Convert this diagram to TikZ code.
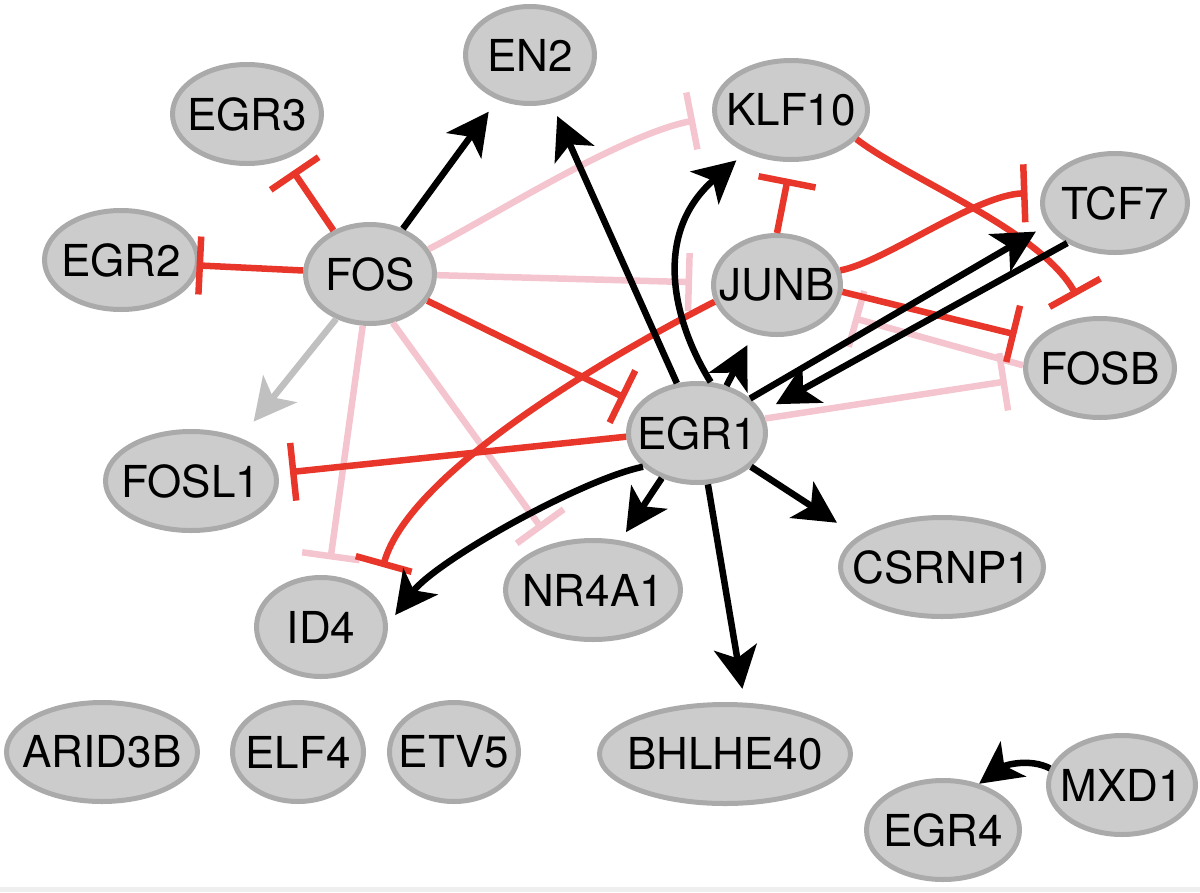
\documentclass[tikz,border=0pt]{standalone}
\usepackage{fontspec}
\setmainfont{TeX Gyre Heros}
\usetikzlibrary{shapes.geometric,arrows.meta}
\definecolor{nfill}{HTML}{CCCCCC}
\definecolor{nborder}{HTML}{AAAAAA}
\definecolor{inhred}{HTML}{E8362A}
\definecolor{inhpink}{HTML}{F4C4CF}
\definecolor{actgray}{HTML}{C0C0C0}
\definecolor{strip}{HTML}{EFEFEF}
\newcommand\gn[1]{\makebox[0pt][c]{#1}}
\tikzset{
  gene/.style={ellipse, draw=nborder, fill=nfill, line width=5pt, inner sep=0pt,
    font=\fontsize{44pt}{50pt}\selectfont, text=black},
  act/.style={line width=6.5pt, black, -{Stealth[length=42pt,width=43pt,inset=11pt]}},
  inh/.style={line width=6.5pt, inhred, -{Bar[width=58pt]}},
  weak/.style={line width=6.5pt, inhpink, -{Bar[width=58pt]}},
}
\begin{document}
\begin{tikzpicture}[x=1pt,y=-1pt]
\useasboundingbox (0,0) rectangle (1200,892);
\fill[strip] (0,887) rectangle (1200,892);

% nodes
\node[gene, minimum width=129pt, minimum height=97pt] (en2) at (530,55) {\gn{EN2}};
\node[gene, minimum width=153pt, minimum height=99pt] (klf10) at (791,110) {\gn{KLF10}};
\node[gene, minimum width=149pt, minimum height=99pt] (egr3) at (247,114) {\gn{EGR3}};
\node[gene, minimum width=153pt, minimum height=99pt] (egr2) at (121,260) {\gn{EGR2}};
\node[gene, minimum width=129pt, minimum height=99pt] (fos) at (370,274) {\gn{FOS}};
\node[gene, minimum width=127pt, minimum height=99pt] (junb) at (777,285) {\gn{JUNB}};
\node[gene, minimum width=145pt, minimum height=99pt] (tcf7) at (1115,203) {\gn{TCF7}};
\node[gene, minimum width=149pt, minimum height=99pt] (fosb) at (1100,368) {\gn{FOSB}};
\node[gene, minimum width=137pt, minimum height=99pt] (egr1) at (697,433) {\gn{EGR1}};
\node[gene, minimum width=171pt, minimum height=99pt] (fosl1) at (191,481) {\gn{FOSL1}};
\node[gene, minimum width=129pt, minimum height=99pt] (id4) at (321,627) {\gn{ID4}};
\node[gene, minimum width=175pt, minimum height=99pt] (nr4a1) at (593,590) {\gn{NR4A1}};
\node[gene, minimum width=203pt, minimum height=99pt] (csrnp1) at (942,567) {\gn{CSRNP1}};
\node[gene, minimum width=251pt, minimum height=99pt] (bhlhe40) at (725,754) {\gn{BHLHE40}};
\node[gene, minimum width=191pt, minimum height=99pt] (arid3b) at (102,752) {\gn{ARID3B}};
\node[gene, minimum width=131pt, minimum height=99pt] (elf4) at (298,752) {\gn{ELF4}};
\node[gene, minimum width=129pt, minimum height=99pt] (etv5) at (454,752) {\gn{ETV5}};
\node[gene, minimum width=153pt, minimum height=99pt] (egr4) at (943,830) {\gn{EGR4}};
\node[gene, minimum width=147pt, minimum height=99pt] (mxd1) at (1122,785) {\gn{MXD1}};

% weak inhibitions (pink)
\draw[weak, shorten >=18pt] (fos.23) .. controls (490,218) and (620,135) .. (klf10.-175);
\draw[weak, shorten >=19pt] (fos.-1) -- (junb.178);
\draw[weak, shorten >=16pt] (fos.-98.6) -- (id4.82.5);
\draw[weak, shorten >=18pt] (fos.-65.4) -- (nr4a1.131.5);
\draw[weak, shorten >=21pt] (fosb.178) -- (junb.-26.3);
\draw[weak, shorten >=18pt] (egr1.12) -- (fosb.188);

% gray activation
\draw[act, actgray, shorten >=21pt] (fos.-127) -- (fosl1.41.7);

% inhibitions (red)
\draw[inh, shorten >=14pt] (fos.130) -- (egr3.-50.6);
\draw[inh, shorten >=-3pt] (fos.177) -- (egr2.-4);
\draw[inh, shorten >=14pt] (fos.-25) -- (egr1.154);
\draw[inh, shorten >=17pt] (junb.90) -- (klf10.-90);
\draw[inh, shorten >=24pt] (klf10.-24.4) .. controls (910,180) and (1040,230) .. (fosb.103.5);
\draw[inh, shorten >=14pt] (junb.13.4) .. controls (885,262) and (975,195) .. (tcf7.172.9);
\draw[inh, shorten >=20pt] (junb.-6) -- (fosb.156.5);
\draw[inh, shorten >=12pt] (egr1.183) -- (fosl1.5.2);
\draw[inh, shorten >=30pt] (junb.195.5) .. controls (620,350) and (410,470) .. (id4.30);

% activations (black)
\draw[act, shorten >=15pt] (fos.54) -- (en2.234);
\draw[act, shorten >=14pt] (egr1.112) -- (en2.-66.5);
\draw[act, shorten >=12pt] (egr1.75) .. controls (675,325) and (650,235) .. (klf10.-137);
\draw[act, shorten >=13pt] (egr1.58) -- (junb.-116.6);
\draw[act, shorten >=13pt] (egr1.33) -- (tcf7.-162);
\draw[act, shorten >=16pt] (tcf7.-140) -- (egr1.18);
\draw[act, shorten >=10pt] (egr1.-128) -- (nr4a1.61);
\draw[act, shorten >=12pt] (egr1.-148) .. controls (580,480) and (436,561) .. (id4.2);
\draw[act, shorten >=14pt] (egr1.-78.7) -- (bhlhe40.69.4);
\draw[act, shorten >=25pt] (egr1.-32.7) -- (csrnp1.160);
\draw[act] (mxd1.167) .. controls (1030,758) and (1005,765) .. (egr4.52);
\end{tikzpicture}
\end{document}
